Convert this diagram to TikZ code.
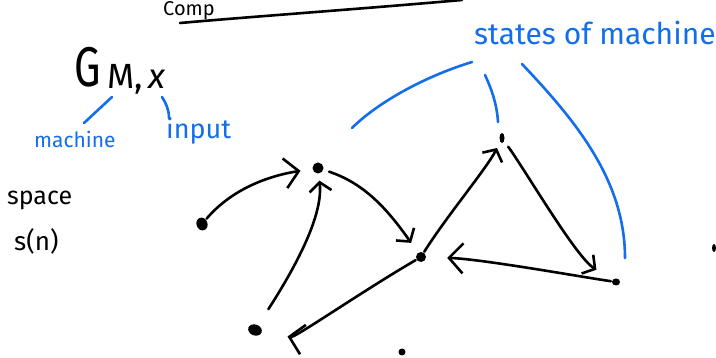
\documentclass[tikz,border=0pt]{standalone}
\usepackage{fontspec}
\setmainfont{Fira Sans}
\usetikzlibrary{arrows.meta,shapes.geometric,calc}
\definecolor{inkblue}{RGB}{20,110,235}
\tikzset{
  ink/.style={line width=2.6pt,line cap=round,line join=round},
  arr/.style={ink,-{Straight Barb[length=9pt,width=22pt,line width=2.6pt]}},
  bigarr/.style={ink,-{Straight Barb[length=14pt,width=30pt,line width=2.6pt]}},
  dot/.style={ellipse,fill=black,inner sep=0pt},
  note/.style={text=inkblue,inner sep=0pt},
  blk/.style={text=black,inner sep=0pt},
  blueline/.style={draw=inkblue,line width=2.6pt,line cap=round}
}
\begin{document}
\begin{tikzpicture}[x=1pt,y=-1pt]
\useasboundingbox[fill=white] (0,0) rectangle (716,358);
% top title
\node[blk,anchor=base west,font=\fontsize{20}{24}\selectfont] (title) at (163,16) {Comp};
\coordinate (ul1) at (180,23);
\coordinate (ul2) at (462,0);
\draw[ink] (ul1) .. controls (260,16) and (360,9) .. (ul2);

% G_{M,x}
\node[blk,anchor=base west] (G) at (74,87) {\scalebox{0.75}[1]{\fontsize{56}{60}\selectfont G}\hspace{7pt}\raisebox{-2pt}{\fontsize{35}{36}\selectfont M,\hspace{5pt}\textit{x}}};
\coordinate (m1) at (112,97);
\coordinate (m2) at (84,123);
\coordinate (i1) at (162,97);
\coordinate (i2) at (169,118);
\draw[blueline] (m1) -- (m2);
\draw[blueline] (i1) .. controls (166,103) and (169,110) .. (i2);
\node[note,anchor=base west,font=\fontsize{21}{26}\selectfont] (machine) at (34,148) {machine};
\node[note,anchor=base west,font=\fontsize{27}{30}\selectfont] (input) at (166,139) {input};

% space s(n)
\node[blk,anchor=base west,font=\fontsize{25}{30}\selectfont] (space) at (7,205) {space};
\node[blk,anchor=base west,font=\fontsize{26}{30}\selectfont] (sn) at (14,251) {s(n)};

% states of machine
\node[note,anchor=base west,font=\fontsize{30}{36}\selectfont] (states) at (474,45) {states of machine};
\coordinate (s1a) at (472,62);
\coordinate (s1b) at (352,128);
\coordinate (s2a) at (485,75);
\coordinate (s2b) at (498,122);
\coordinate (s3a) at (522,64);
\coordinate (s3b) at (625,258);
\draw[blueline] (s1a) .. controls (420,78) and (375,105) .. (s1b);
\draw[blueline] (s2a) .. controls (492,90) and (497,105) .. (s2b);
\draw[blueline] (s3a) .. controls (575,120) and (625,180) .. (s3b);

% states (dots)
\node[dot,minimum width=11pt,minimum height=13pt,rotate=20] (A) at (202,224) {};
\node[dot,minimum width=11pt,minimum height=11pt] (B) at (318,168) {};
\node[dot,minimum width=14pt,minimum height=11pt,rotate=-20] (C) at (255,330) {};
\node[dot,minimum width=10pt,minimum height=10pt] (D) at (421,257) {};
\node[dot,minimum width=5pt,minimum height=10pt] (E) at (502,138) {};
\node[dot,minimum width=8pt,minimum height=7pt] (F) at (616,282) {};
\node[dot,minimum width=7pt,minimum height=7pt] (G1) at (402,352) {};
\node[dot,minimum width=4pt,minimum height=8pt] (G2) at (714,248) {};

% transitions
\draw[bigarr,shorten <=1pt,shorten >=12pt] (A) .. controls +(30,-35) and +(-50,8) .. (B);
\draw[arr,shorten <=6pt,shorten >=12pt] (B) .. controls +(45,15) and +(-35,-50) .. (D);
\draw[arr,shorten <=19pt,shorten >=7pt] (C) .. controls +(45,-70) and +(5,45) .. (B);
\draw[bigarr,shorten <=1pt,shorten >=26pt] (D) .. controls +(-60,35) and +(40,8) .. (C);
\draw[arr,shorten <=1pt,shorten >=7pt] (D) .. controls +(25,-40) and +(-15,30) .. (E);
\draw[arr,shorten <=7pt,shorten >=19pt] (E) .. controls +(25,35) and +(-40,-25) .. (F);
\draw[bigarr,shorten <=1pt,shorten >=21pt] (F) .. controls +(-40,-6) and +(60,2) .. (D);
\end{tikzpicture}
\end{document}
